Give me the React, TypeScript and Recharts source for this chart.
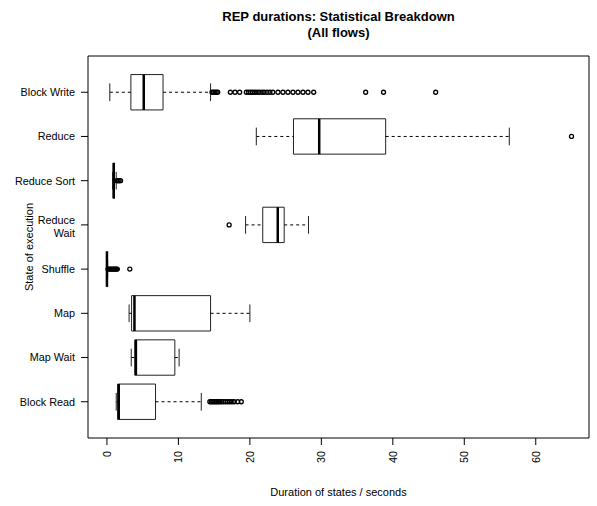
import {
  ScatterChart,
  Scatter,
  XAxis,
  YAxis,
  ReferenceArea,
  ReferenceLine,
} from "recharts";

// bottom to top, like R's boxplot
const categories = [
  "Block Read",
  "Map Wait",
  "Map",
  "Shuffle",
  "Reduce\nWait",
  "Reduce Sort",
  "Reduce",
  "Block Write",
];

const whiskerLow = [1.3, 3.4, 3.1, 0, 19.4, 0.8, 20.9, 0.4];
const q1 = [1.5, 3.9, 3.45, 0, 21.8, 0.88, 26.1, 3.35];
const median = [1.65, 4.05, 3.85, 0, 23.9, 0.95, 29.7, 5.15];
const q3 = [6.8, 9.5, 14.5, 0.05, 24.8, 1.05, 39.0, 7.85];
const whiskerHigh = [13.2, 10.1, 20.0, 0.1, 28.2, 1.3, 56.3, 14.5];

const outliers = [
  [14.4, 14.6, 14.8, 15.0, 15.2, 15.4, 15.6, 15.8, 16.0, 16.3, 16.6, 16.9, 17.2, 17.5, 17.8, 18.3, 18.8],
  [],
  [],
  [0.15, 0.3, 0.45, 0.6, 0.75, 0.9, 1.05, 1.2, 1.35, 1.45, 3.2],
  [17.1],
  [1.4, 1.55, 1.7, 1.9],
  [65.0],
  [
    14.7, 14.9, 15.1, 15.3, 15.5, 17.27, 17.92, 18.57, 19.5, 19.8, 20.1, 20.4,
    20.7, 21.0, 21.3, 21.7, 22.0, 22.4, 22.8, 23.2, 23.93, 24.63, 25.33, 26.03,
    26.73, 27.43, 28.13, 28.93, 36.2, 38.7, 46.0,
  ],
];

const xTicks = [0, 10, 20, 30, 40, 50, 60];
const yTicks = [1, 2, 3, 4, 5, 6, 7, 8];

const X_DOMAIN: [number, number] = [-2.65, 67.45];
const Y_DOMAIN: [number, number] = [0.18, 8.82];
const BOX = 0.4;
const STAPLE = 0.2;
const FONT = '"Liberation Sans", Arial, Helvetica, sans-serif';
const TICK_FS = 10.8;

const outlierPoints = outliers.flatMap((vals, i) =>
  vals.map((v) => ({ v, pos: i + 1 }))
);

const XTick = (props: any) => {
  const { x, y, payload } = props;
  return (
    <text
      x={x}
      y={y}
      dy={3.8}
      transform={`rotate(-90, ${x}, ${y})`}
      textAnchor="end"
      fontSize={TICK_FS}
      fontFamily={FONT}
      fill="#000"
    >
      {payload.value}
    </text>
  );
};

const YTick = (props: any) => {
  const { x, y, payload } = props;
  const lines = categories[payload.value - 1].split("\n");
  if (lines.length > 1) {
    return (
      <g>
        <text x={x} y={y - 1} textAnchor="end" fontSize={TICK_FS} fontFamily={FONT} fill="#000">
          {lines[0]}
        </text>
        <text x={x} y={y + 12.4} textAnchor="end" fontSize={TICK_FS} fontFamily={FONT} fill="#000">
          {lines[1]}
        </text>
      </g>
    );
  }
  return (
    <text x={x} y={y + 3.9} textAnchor="end" fontSize={TICK_FS} fontFamily={FONT} fill="#000">
      {lines[0]}
    </text>
  );
};

export default function App() {
  return (
    <div style={{ position: "absolute", left: 0, top: 0, width: 597, height: 506, background: "#fff" }}>
      <ScatterChart
        width={597}
        height={506}
        margin={{ top: 56, right: 8, bottom: 0, left: 8 }}
      >
        <XAxis
          dataKey="v"
          type="number"
          domain={X_DOMAIN}
          ticks={xTicks}
          allowDataOverflow
          axisLine={false}
          tickLine={{ stroke: "#000" }}
          tickSize={7}
          tickMargin={6}
          height={68}
          tick={<XTick />}
        />
        <YAxis
          dataKey="pos"
          type="number"
          domain={Y_DOMAIN}
          ticks={yTicks}
          allowDataOverflow
          axisLine={false}
          tickLine={{ stroke: "#000" }}
          tickSize={7}
          tickMargin={6}
          width={80}
          tick={<YTick />}
        />

        {/* plot frame */}
        <ReferenceArea
          x1={X_DOMAIN[0]}
          x2={X_DOMAIN[1]}
          y1={Y_DOMAIN[0]}
          y2={Y_DOMAIN[1]}
          fill="none"
          stroke="#000"
          strokeWidth={1}
          ifOverflow="visible"
        />

        {categories.map((c, i) => {
          const p = i + 1;
          return [
            <ReferenceLine
              key={c + "wl"}
              segment={[{ x: whiskerLow[i], y: p }, { x: q1[i], y: p }]}
              stroke="#000"
              strokeDasharray="3 3"
              ifOverflow="visible"
            />,
            <ReferenceLine
              key={c + "wh"}
              segment={[{ x: q3[i], y: p }, { x: whiskerHigh[i], y: p }]}
              stroke="#000"
              strokeDasharray="3 3"
              ifOverflow="visible"
            />,
            <ReferenceLine
              key={c + "sl"}
              segment={[{ x: whiskerLow[i], y: p - STAPLE }, { x: whiskerLow[i], y: p + STAPLE }]}
              stroke="#222"
              ifOverflow="visible"
            />,
            <ReferenceLine
              key={c + "sh"}
              segment={[{ x: whiskerHigh[i], y: p - STAPLE }, { x: whiskerHigh[i], y: p + STAPLE }]}
              stroke="#222"
              ifOverflow="visible"
            />,
            <ReferenceArea
              key={c + "box"}
              x1={q1[i]}
              x2={q3[i]}
              y1={p - BOX}
              y2={p + BOX}
              fill="#fff"
              fillOpacity={1}
              stroke="#222"
              strokeWidth={1}
              ifOverflow="visible"
            />,
            <ReferenceLine
              key={c + "med"}
              segment={[{ x: median[i], y: p - BOX }, { x: median[i], y: p + BOX }]}
              stroke="#000"
              strokeWidth={2.5}
              ifOverflow="visible"
            />,
          ];
        })}

        <Scatter
          data={outlierPoints}
          isAnimationActive={false}
          shape={(props: any) => (
            <circle cx={props.cx} cy={props.cy} r={2} fill="none" stroke="#000" strokeWidth={1.3} />
          )}
        />
      </ScatterChart>

      <svg
        width={597}
        height={506}
        style={{ position: "absolute", left: 0, top: 0, pointerEvents: "none" }}
      >
        <text x={338.5} y={20.5} textAnchor="middle" fontSize={13} fontWeight="bold" fontFamily={FONT}>
          REP durations: Statistical Breakdown
        </text>
        <text x={338.5} y={37} textAnchor="middle" fontSize={13} fontWeight="bold" fontFamily={FONT}>
          (All flows)
        </text>
        <text x={338.5} y={496} textAnchor="middle" fontSize={11} fontFamily={FONT}>
          Duration of states / seconds
        </text>
        <text
          x={33}
          y={247}
          textAnchor="middle"
          fontSize={11}
          fontFamily={FONT}
          transform="rotate(-90, 33, 247)"
        >
          State of execution
        </text>
      </svg>
    </div>
  );
}
